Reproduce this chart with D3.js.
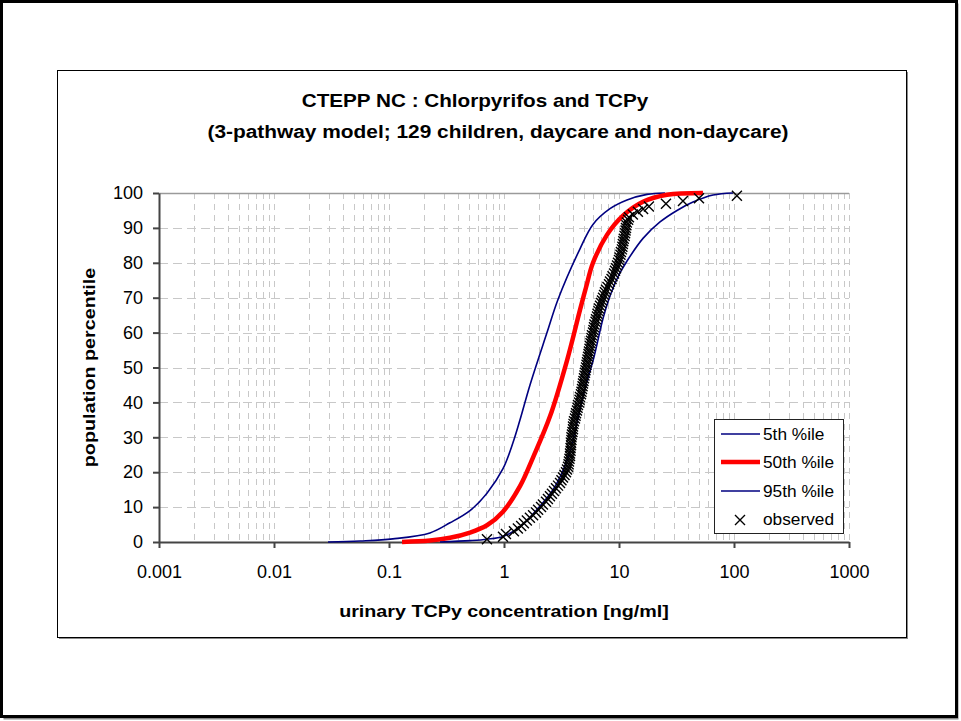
<!DOCTYPE html>
<html><head><meta charset="utf-8">
<script src="https://cdn.jsdelivr.net/npm/d3@7/dist/d3.min.js"></script>
<style>html,body{margin:0;padding:0;background:#fff;} svg{display:block;font-family:"Liberation Sans",Arial,Helvetica,sans-serif;}</style>
</head><body><svg id="chart" width="961" height="721"></svg>
<script>
// ---------- data ----------
const titleLines = ["CTEPP NC : Chlorpyrifos and TCPy", "(3-pathway model; 129 children, daycare and non-daycare)"];
const xAxisTitle = "urinary TCPy concentration [ng/ml]";
const yAxisTitle = "population percentile";
const xTickValues = [0.001, 0.01, 0.1, 1, 10, 100, 1000];
const xTickLabels = ["0.001", "0.01", "0.1", "1", "10", "100", "1000"];
const yTickValues = [0, 10, 20, 30, 40, 50, 60, 70, 80, 90, 100];
const seriesNames = ["5th %ile", "50th %ile", "95th %ile", "observed"];

const p5Conc = [0.0295, 0.056, 0.108, 0.227, 0.339, 0.506, 0.711, 0.98, 1.198, 1.378, 1.683, 2.366, 2.948, 4.58, 5.94, 8.35, 11.74, 17.52, 25.1];
const p5Pct  = [0, 0.3, 0.9, 2.6, 5.5, 9, 14, 21, 28.5, 35, 45, 60, 69.5, 84, 91, 95.5, 98, 99.6, 100];

const p50Conc = [0.1298, 0.2273, 0.3393, 0.5062, 0.7112, 0.98, 1.378, 1.787, 2.512, 3.53, 4.58, 5.17, 5.94, 7.86, 10.83, 16.17, 26.15, 53.7];
const p50Pct  = [0, 0.4, 1.2, 2.7, 4.8, 8.7, 16, 24.2, 36, 52, 66.5, 73, 80, 88, 93.5, 97.5, 99.5, 100];

const p95Conc = [0.2777, 0.5062, 0.7112, 0.98, 1.378, 1.936, 2.668, 3.26, 3.75, 4.23, 5.06, 6.06, 7.26, 8.35, 9.80, 11.74, 16.17, 22.73, 31.94, 44.0, 65.7, 98.0];
const p95Pct  = [0, 0.4, 0.8, 1.6, 4.3, 9.3, 15, 20.5, 26, 33, 44, 53, 64, 70.5, 76, 80.5, 87, 91.7, 95, 97.4, 99.4, 100];

// observed urinary TCPy of 129 children (sorted)
const observedConc = [0.711, 0.98, 1.04, 1.22, 1.32, 1.41, 1.49, 1.58, 1.68, 1.79,
  1.90, 1.98, 2.10, 2.18, 2.32, 2.41, 2.51, 2.61, 2.72, 2.83,
  2.95, 3.07, 3.16, 3.26, 3.36, 3.46, 3.53, 3.60, 3.64, 3.67,
  3.71, 3.75, 3.75, 3.79, 3.79, 3.83, 3.83, 3.86, 3.86, 3.90,
  3.94, 3.98, 3.98, 4.02, 4.06, 4.14, 4.19, 4.23, 4.31, 4.36,
  4.40, 4.49, 4.54, 4.58, 4.67, 4.72, 4.77, 4.82, 4.86, 4.91,
  4.96, 5.01, 5.06, 5.11, 5.17, 5.22, 5.27, 5.32, 5.38, 5.43,
  5.48, 5.54, 5.59, 5.65, 5.71, 5.77, 5.82, 5.94, 6.00, 6.06,
  6.12, 6.25, 6.31, 6.44, 6.50, 6.63, 6.70, 6.84, 6.98, 7.11,
  7.26, 7.41, 7.55, 7.71, 7.94, 8.19, 8.35, 8.61, 8.78, 9.05,
  9.23, 9.42, 9.61, 9.80, 10.0, 10.1, 10.3, 10.4, 10.6, 10.7,
  10.8, 10.9, 11.0, 11.2, 11.3, 11.4, 11.5, 11.6, 11.7, 12.0,
  12.2, 13.2, 14.6, 16.2, 18.2, 25.6, 36.0, 49.6, 106];

// ---------- drawing ----------
const svg = d3.select("#chart");
const FONT = '"Liberation Sans", Arial, Helvetica, sans-serif';

// outer frame
svg.append("rect").attr("x", 3.5).attr("y", 3.5).attr("width", 955).attr("height", 716).attr("fill", "#8a8a8a");
svg.append("rect").attr("x", 1.5).attr("y", 1.5).attr("width", 955).attr("height", 715)
  .attr("fill", "#fff").attr("stroke", "#000").attr("stroke-width", 3);

// chart area box with shadow
svg.append("rect").attr("x", 59).attr("y", 72).attr("width", 849).attr("height", 567).attr("fill", "#8a8a8a");
svg.append("rect").attr("x", 57.5).attr("y", 70.5).attr("width", 849).attr("height", 567)
  .attr("fill", "#fff").attr("stroke", "#000").attr("stroke-width", 1);

const x = d3.scaleLog().domain([0.001, 1000]).range([159, 849]);
const y = d3.scaleLinear().domain([0, 100]).range([542, 193]);

// horizontally stretched text helper
function stext(g, tx, ty, str, size, weight, anchor, sx, rotate) {
  return g.append("text")
    .attr("transform", `translate(${tx},${ty})` + (rotate ? ` rotate(${rotate})` : "") + ` scale(${sx},1)`)
    .attr("text-anchor", anchor).attr("font-family", FONT)
    .attr("font-size", size).attr("font-weight", weight).attr("fill", "#000").text(str);
}

// gridlines
const grid = svg.append("g");
const minorVals = [];
for (let e = -3; e <= 2; e++) for (let k = 1; k <= 9; k++) minorVals.push(k * Math.pow(10, e));
minorVals.push(1000);
minorVals.filter(v => v > 0.0011).forEach(v => {
  const px = Math.round(x(v)) + 0.5;
  grid.append("line").attr("x1", px).attr("x2", px).attr("y1", y(100)).attr("y2", y(0))
    .attr("stroke", "#c8c8c8").attr("stroke-width", 1).attr("stroke-dasharray", "6,5");
});
yTickValues.filter(v => v > 0 && v < 100).forEach(v => {
  const py = Math.round(y(v)) + 0.5;
  grid.append("line").attr("x1", x(0.001)).attr("x2", x(1000)).attr("y1", py).attr("y2", py)
    .attr("stroke", "#c8c8c8").attr("stroke-width", 1).attr("stroke-dasharray", "9,5");
});
grid.append("line").attr("x1", x(0.001)).attr("x2", x(1000)).attr("y1", Math.round(y(100)) + 0.5).attr("y2", Math.round(y(100)) + 0.5)
  .attr("stroke", "#9a9a9a").attr("stroke-width", 1.5);

// axes
const xAxis = d3.axisBottom(x).tickValues(xTickValues).tickFormat((d, i) => xTickLabels[i])
  .tickSizeInner(6).tickSizeOuter(0).tickPadding(17);
const gx = svg.append("g").attr("transform", `translate(0,${y(0)})`).call(xAxis);
const yAxis = d3.axisLeft(y).tickValues(yTickValues).tickFormat(d3.format("d"))
  .tickSizeInner(6).tickSizeOuter(0).tickPadding(10);
const gy = svg.append("g").attr("transform", `translate(${x(0.001)},0)`).call(yAxis);
[gx, gy].forEach(g => {
  g.select(".domain").attr("stroke", "#444").attr("stroke-width", 2);
  g.selectAll(".tick line").attr("stroke", "#444").attr("stroke-width", 2);
  g.selectAll(".tick text").attr("font-family", FONT).attr("font-size", 18).attr("fill", "#000");
});

// curves
const line = d3.line().x(d => x(d[0])).y(d => y(d[1])).curve(d3.curveCatmullRom.alpha(0.5));
const plot = svg.append("g");
plot.append("path").datum(d3.zip(p5Conc, p5Pct)).attr("d", line)
  .attr("fill", "none").attr("stroke", "#000080").attr("stroke-width", 1.6);
plot.append("path").datum(d3.zip(p50Conc, p50Pct)).attr("d", line)
  .attr("fill", "none").attr("stroke", "#ff0000").attr("stroke-width", 4.5);
plot.append("path").datum(d3.zip(p95Conc, p95Pct)).attr("d", line)
  .attr("fill", "none").attr("stroke", "#000080").attr("stroke-width", 1.6);

// observed: empirical percentile rank i/(n+1)
const nObs = observedConc.length;
const obs = observedConc.map((c, i) => [c, 100 * (i + 1) / (nObs + 1)]);
const xMark = "M-5,-5L5,5M-5,5L5,-5";
plot.selectAll("path.obs").data(obs).enter().append("path").attr("class", "obs")
  .attr("d", xMark).attr("transform", d => `translate(${x(d[0])},${y(d[1])})`)
  .attr("fill", "none").attr("stroke", "#000").attr("stroke-width", 1.4);

// titles
stext(svg, 475, 107, titleLines[0], 18, "bold", "middle", 1.15);
stext(svg, 498, 138, titleLines[1], 18, "bold", "middle", 1.16);
stext(svg, 504, 617, xAxisTitle, 17, "bold", "middle", 1.16);
stext(svg, 95, 367.5, yAxisTitle, 17, "bold", "middle", 1.16, -90);

// legend
const lg = svg.append("g");
lg.append("rect").attr("x", 714.5).attr("y", 419.5).attr("width", 129).attr("height", 114)
  .attr("fill", "#fff").attr("stroke", "#222").attr("stroke-width", 1);
const legY = [434, 462, 491, 519];
const legStyles = [
  {stroke: "#000080", w: 1.6},
  {stroke: "#ff0000", w: 4.5},
  {stroke: "#000080", w: 1.6},
  null
];
seriesNames.forEach((name, i) => {
  if (legStyles[i]) {
    lg.append("line").attr("x1", 721).attr("x2", 760).attr("y1", legY[i]).attr("y2", legY[i])
      .attr("stroke", legStyles[i].stroke).attr("stroke-width", legStyles[i].w);
  } else {
    lg.append("path").attr("d", xMark).attr("transform", `translate(740,${legY[i] + 1})`)
      .attr("fill", "none").attr("stroke", "#000").attr("stroke-width", 1.4);
  }
  stext(lg, 763, legY[i] + 6, name, 16, "normal", "start", 1.08);
});
</script></body></html>
